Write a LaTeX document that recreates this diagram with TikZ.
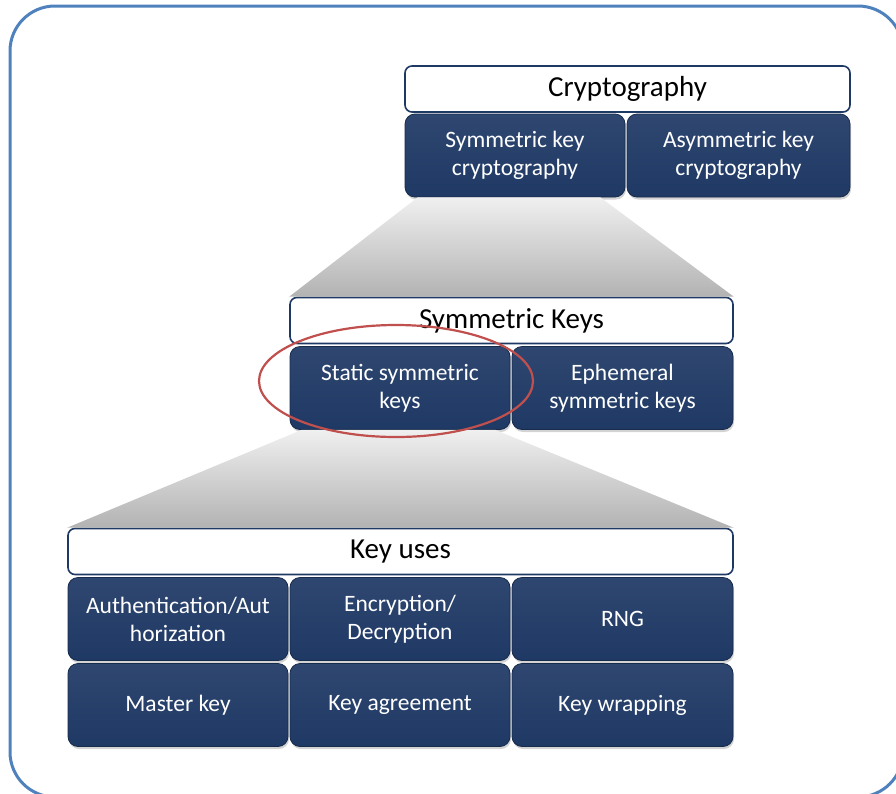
\documentclass[tikz,border=0pt]{standalone}
\usepackage{fontspec}
\setmainfont{Carlito}
\usetikzlibrary{shadows}
\definecolor{navy}{RGB}{31,57,101}
\definecolor{frameblue}{RGB}{79,129,189}
\definecolor{ringred}{RGB}{192,80,77}

\begin{document}
\begin{tikzpicture}[x=1pt,y=-1pt,
  hdr/.style={draw=navy, line width=1.6pt, fill=white, rounded corners=7pt, minimum height=46pt, inner sep=0pt, font=\fontsize{29}{34}\selectfont},
  item/.style={draw=navy!75!black, line width=0.8pt, rounded corners=10pt, top color=navy!93!white, bottom color=navy, text=white, minimum width=220pt, minimum height=83pt, inner sep=0pt, align=center, font=\fontsize{23.5}{28}\selectfont, drop shadow={opacity=0.35, shadow xshift=1pt, shadow yshift=-2.5pt}},
  fan/.style={top color=black!6, bottom color=black!30}]

\clip (0,0) rectangle (896,793);
\draw[frameblue, line width=3pt, rounded corners=45pt] (10,6) rectangle (903,797);

% level 1
\path
(627.5,89)  node[hdr, minimum width=445pt] (crypto) {Cryptography}
(515,155.5) node[item] (symkc) {Symmetric key\\cryptography}
(738.5,155.5) node[item, minimum width=223pt] (asymkc) {Asymmetric key\\cryptography};
% end level 1

% level 2
\path
(511.5,320.5) node[hdr, minimum width=443pt] (symkeys) {Symmetric Keys}
(400,388)   node[item] (static) {Static symmetric\\keys}
(622.5,388) node[item, minimum width=221pt] (ephem) {Ephemeral\\symmetric keys};
\shade[fan] ([xshift=13pt]symkc.south west) -- ([xshift=-25pt]symkc.south east)
  -- (symkeys.north east) -- (symkeys.north west) -- cycle;
% end level 2

% level 3
\path
(400.5,551.5) node[hdr, minimum width=665pt] (keyuses) {Key uses}
(178,619)   node[item] (auth) {Authentication/Aut\\horization}
(400,619)   node[item] (encdec) {Encryption/\\Decryption}
(622.5,619) node[item, minimum width=221pt] (rng) {RNG}
(178,705)   node[item] (master) {Master key}
(400,705)   node[item] (agree) {Key agreement}
(622.5,705) node[item, minimum width=221pt] (wrap) {Key wrapping};
\shade[fan] ([xshift=12pt]static.south west) -- ([xshift=-15pt]static.south east)
  -- (keyuses.north east) -- (keyuses.north west) -- cycle;
% end level 3

\draw[ringred, line width=2.2pt] (396,381) ellipse [x radius=137, y radius=56];

\end{tikzpicture}
\end{document}
